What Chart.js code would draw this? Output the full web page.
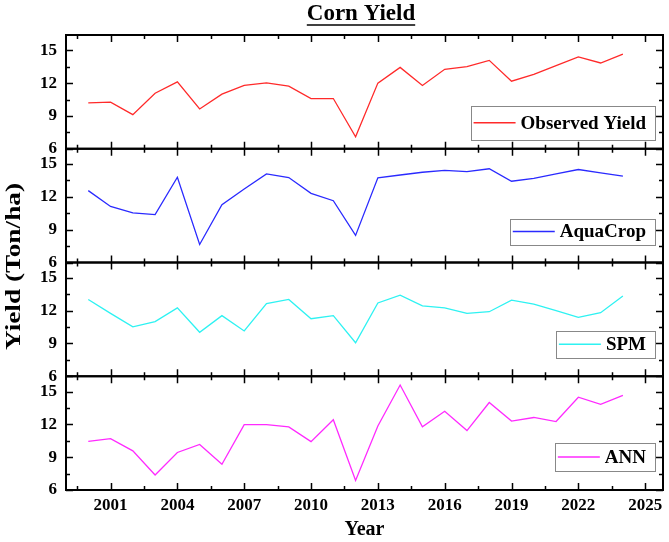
<!DOCTYPE html>
<html>
<head>
<meta charset="utf-8">
<script src="https://cdn.jsdelivr.net/npm/chart.js@4.4.0/dist/chart.umd.min.js"></script>
<style>
  html, body { margin: 0; padding: 0; background: #fff; }
  #wrap { width: 669px; height: 542px; position: relative; }
</style>
</head>
<body>
<div id="wrap"><canvas id="chartYield"></canvas></div>
<script>
// Corn yield, 2000-2024 (Ton/ha)
const years = [2000, 2001, 2002, 2003, 2004, 2005, 2006, 2007, 2008, 2009, 2010, 2011, 2012,
  2013, 2014, 2015, 2016, 2017, 2018, 2019, 2020, 2021, 2022, 2023, 2024];
const observed = [10.19, 10.26, 9.12, 11.08, 12.12, 9.64, 10.99, 11.79, 12.03, 11.72, 10.59, 10.59, 7.10,
  12.0, 13.44, 11.79, 13.26, 13.5, 14.08, 12.18, 12.8, 13.6, 14.39, 13.84, 14.66];
const aquacrop = [12.57, 11.12, 10.54, 10.38, 13.8, 7.65, 11.28, 12.72, 14.1, 13.77, 12.32, 11.65, 8.48,
  13.74, 14.0, 14.25, 14.42, 14.3, 14.57, 13.43, 13.7, 14.1, 14.5, 14.2, 13.9];
const spm = [13.02, 11.75, 10.52, 11.0, 12.25, 10.02, 11.54, 10.14, 12.65, 13.02, 11.26, 11.54, 9.06,
  12.7, 13.42, 12.43, 12.25, 11.75, 11.9, 12.96, 12.6, 12.0, 11.38, 11.81, 13.33];
const ann = [10.45, 10.69, 9.58, 7.37, 9.43, 10.17, 8.35, 11.98, 11.98, 11.77, 10.42, 12.42, 6.88,
  11.86, 15.6, 11.77, 13.2, 11.43, 14.0, 12.3, 12.63, 12.26, 14.48, 13.83, 14.66];

const xMajor = [2001, 2004, 2007, 2010, 2013, 2016, 2019, 2022, 2025];
const xMinor = [1999.5, 2002.5, 2005.5, 2008.5, 2011.5, 2014.5, 2017.5, 2020.5, 2023.5];
const yMajor = [6, 9, 12, 15];
const yMinor = [7.5, 10.5, 13.5];

const seriesNames = ['Observed Yield', 'AquaCrop', 'SPM', 'ANN'];
const seriesColors = ['#ff2a2a', '#2a2aff', '#2ef2f2', '#ff2aff'];
const seriesValues = [observed, aquacrop, spm, ann];
const axisIds = ['y1', 'y2', 'y3', 'y4'];

// legend box placement per panel (offset of box centre above panel bottom, box height)
const legendStyle = [
  { dy: 26, h: 34 },
  { dy: 31, h: 26 },
  { dy: 32, h: 27 },
  { dy: 33, h: 28 }
];

const serif = '"Liberation Serif", "Times New Roman", serif';

const datasets = seriesNames.map((name, i) => ({
  label: name,
  data: years.map((yr, k) => ({ x: yr, y: seriesValues[i][k] })),
  borderColor: seriesColors[i],
  backgroundColor: seriesColors[i],
  borderWidth: 1.3,
  pointRadius: 0,
  tension: 0,
  yAxisID: axisIds[i]
}));

function yScale() {
  return {
    type: 'linear',
    position: 'left',
    stack: 'panels',
    stackWeight: 1,
    min: 6,
    max: 16.4,
    grid: { display: false, drawTicks: false },
    border: { display: false },
    afterBuildTicks: (s) => { s.ticks = yMajor.map(v => ({ value: v })); },
    afterFit: (s) => { s.width = 66; },
    ticks: {
      autoSkip: false,
      padding: 9,
      color: '#000',
      font: { family: serif, size: 17, weight: 'bold' },
      callback: (v) => String(v)
    }
  };
}

const scales = {
  x: {
    type: 'linear',
    position: 'bottom',
    min: 1999,
    max: 2025.8,
    grid: { display: false, drawTicks: false },
    border: { display: false },
    afterBuildTicks: (s) => { s.ticks = xMajor.map(v => ({ value: v })); },
    afterFit: (s) => { s.height = 52; },
    ticks: {
      autoSkip: false,
      maxRotation: 0,
      padding: 5,
      color: '#000',
      font: { family: serif, size: 17, weight: 'bold' },
      callback: (v) => String(v)
    },
    title: {
      display: true,
      text: 'Year',
      color: '#000',
      padding: 0,
      font: { family: serif, size: 20, weight: 'bold' }
    }
  }
};
// left stacked axes are laid out last-defined-first, so add the bottom panel first
axisIds.slice().reverse().forEach(id => { scales[id] = yScale(); });

// frame, inward ticks, per-panel legends, titles
const panelPlugin = {
  id: 'panelPlugin',
  afterDraw(chart) {
    const ctx = chart.ctx;
    const area = chart.chartArea;
    const xs = chart.scales.x;
    ctx.save();
    ctx.strokeStyle = '#000';
    ctx.fillStyle = '#000';

    axisIds.forEach((id, i) => {
      const ys = chart.scales[id];
      const top = ys.top, bottom = ys.bottom;

      // ticks
      ctx.lineWidth = 1.5;
      ctx.beginPath();
      const tick = (vals, len) => {
        vals.forEach(v => {
          const px = Math.round(xs.getPixelForValue(v)) + 0.5;
          ctx.moveTo(px, bottom); ctx.lineTo(px, bottom - len);
          ctx.moveTo(px, top); ctx.lineTo(px, top + len);
        });
      };
      tick(xMajor, 7);
      tick(xMinor, 4);
      const ytick = (vals, len) => {
        vals.forEach(v => {
          const py = Math.round(ys.getPixelForValue(v)) + 0.5;
          ctx.moveTo(area.left, py); ctx.lineTo(area.left + len, py);
          ctx.moveTo(area.right, py); ctx.lineTo(area.right - len, py);
        });
      };
      ytick(yMajor, 7);
      ytick(yMinor, 4);
      ctx.stroke();

      // frame
      ctx.lineWidth = 2;
      ctx.strokeRect(area.left, top, area.right - area.left, bottom - top);

      // legend
      const st = legendStyle[i];
      ctx.font = 'bold 19px ' + serif;
      const tw = ctx.measureText(seriesNames[i]).width;
      const boxR = area.right - 8;
      const boxW = 2 + 42 + 6 + tw + 9;
      const boxL = boxR - boxW;
      const cy = bottom - st.dy;
      ctx.fillStyle = '#fff';
      ctx.fillRect(boxL, cy - st.h / 2, boxW, st.h);
      ctx.lineWidth = 1;
      ctx.strokeStyle = '#888';
      ctx.strokeRect(Math.round(boxL) + 0.5, Math.round(cy - st.h / 2) + 0.5, Math.round(boxW), st.h);
      ctx.strokeStyle = seriesColors[i];
      ctx.lineWidth = 1.3;
      ctx.beginPath();
      ctx.moveTo(boxL + 3, cy); ctx.lineTo(boxL + 45, cy);
      ctx.stroke();
      ctx.fillStyle = '#000';
      ctx.textAlign = 'left';
      ctx.textBaseline = 'middle';
      ctx.fillText(seriesNames[i], boxL + 50, cy + 1);
      ctx.strokeStyle = '#000';
    });

    // main title, underlined
    ctx.font = 'bold 23px ' + serif;
    ctx.textAlign = 'center';
    ctx.textBaseline = 'alphabetic';
    const title = 'Corn Yield';
    const tx = 361;
    ctx.fillText(title, tx, 20);
    const w = ctx.measureText(title).width;
    ctx.lineWidth = 1.5;
    ctx.beginPath();
    ctx.moveTo(tx - w / 2, 25); ctx.lineTo(tx + w / 2, 25);
    ctx.stroke();

    // y axis title spanning all panels
    ctx.save();
    ctx.translate(15, (area.top + area.bottom) / 2 + 4);
    ctx.rotate(-Math.PI / 2);
    ctx.scale(1.3, 1);
    ctx.font = 'bold 21px ' + serif;
    ctx.textAlign = 'center';
    ctx.textBaseline = 'middle';
    ctx.fillText('Yield (Ton/ha)', 0, 0);
    ctx.restore();

    ctx.restore();
  }
};

new Chart(document.getElementById('chartYield'), {
  type: 'line',
  data: { datasets },
  options: {
    responsive: true,
    maintainAspectRatio: false,
    animation: false,
    layout: { padding: { top: 35, left: 0, right: 6, bottom: 0 } },
    plugins: {
      legend: { display: false },
      tooltip: { enabled: false },
      title: { display: false }
    },
    scales
  },
  plugins: [panelPlugin]
});
</script>
</body>
</html>
